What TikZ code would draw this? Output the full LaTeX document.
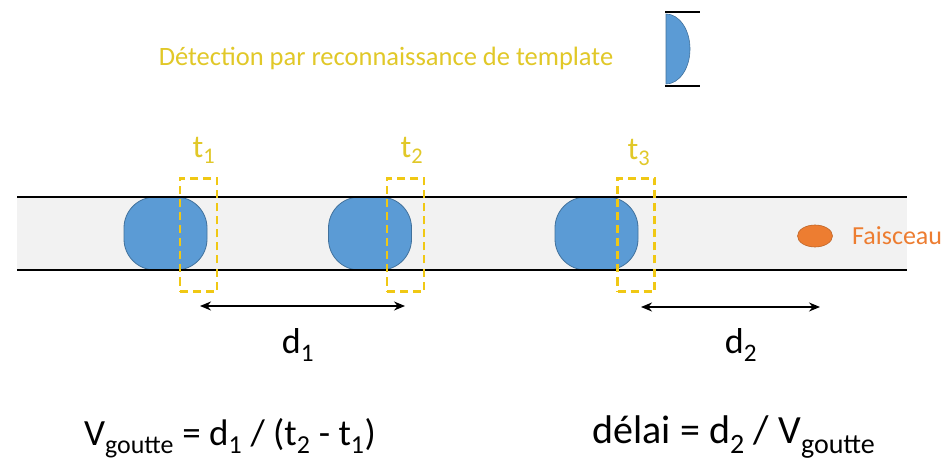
\documentclass[tikz,border=0pt]{standalone}
\usepackage{fontspec}
\setmainfont{Carlito}
\usetikzlibrary{arrows.meta,shapes.geometric}
\definecolor{dropblue}{RGB}{91,155,213}
\definecolor{dropedge}{RGB}{65,113,156}
\definecolor{goldy}{RGB}{240,200,20}
\definecolor{goldtext}{RGB}{225,200,40}
\definecolor{orangeb}{RGB}{237,125,49}
\definecolor{chan}{RGB}{242,242,242}
\tikzset{
  dropbox/.style={rectangle, rounded corners=31pt, fill=dropblue, draw=dropedge, line width=0.8pt, minimum width=83pt, minimum height=73pt, inner sep=0pt},
  winbox/.style={rectangle, draw=goldy, dashed, dash pattern=on 8pt off 5pt, line width=2.2pt, minimum width=37pt, minimum height=113pt, inner sep=0pt},
  tlabel/.style={text=goldtext, font=\fontsize{32}{36}\selectfont, inner sep=0pt},
  dlabel/.style={text=black, font=\fontsize{36}{40}\selectfont, inner sep=0pt},
  formula/.style={text=black, inner sep=0pt},
  dimarrow/.style={{Stealth[length=11pt,width=9pt]}-{Stealth[length=11pt,width=9pt]}, line width=1.6pt},
}
\begin{document}
\begin{tikzpicture}[x=1pt,y=-1pt]
\useasboundingbox (0,0) rectangle (947,462);
\fill[white] (0,0) rectangle (947,462);
% channel
\fill[chan] (17,197) rectangle (907,270);
\coordinate (cl1) at (17,197); \coordinate (cr1) at (907,197);
\coordinate (cl2) at (17,270); \coordinate (cr2) at (907,270);
% drops
\node[dropbox] (g1) at (165.5,233.5) {};
\node[dropbox] (g2) at (370,233.5) {};
\node[dropbox] (g3) at (596.5,233.5) {};
\draw[line width=1.5pt] (cl1) -- (cr1);
\draw[line width=1.5pt] (cl2) -- (cr2);
% detection windows
\node[winbox] (w1) at (198.5,235) {};
\node[winbox] (w2) at (405.5,235) {};
\node[winbox] (w3) at (636,235) {};
\node[tlabel] (t1) at (204,150) {t\textsubscript{1}};
\node[tlabel] (t2) at (412,150) {t\textsubscript{2}};
\node[tlabel] (t3) at (639,152) {t\textsubscript{3}};
% beam
\node[ellipse, fill=orangeb, draw=orangeb!80!black, line width=0.6pt, minimum width=35pt, minimum height=22pt, inner sep=0pt] (fb) at (815,236) {};
\node[anchor=west, text=orangeb, font=\fontsize{26}{30}\selectfont, inner sep=0pt] (fl) at (852,236) {Faisceau};
% dimension arrows
\coordinate (a1) at (200,306); \coordinate (b1) at (405,306);
\draw[dimarrow] (a1) -- (b1);
\node[dlabel] (d1) at (298,345) {d\textsubscript{1}};
\coordinate (a2) at (641,307); \coordinate (b2) at (820,307);
\draw[dimarrow] (a2) -- (b2);
\node[dlabel] (d2) at (741,345) {d\textsubscript{2}};
% title and template icon
\node[text=goldtext, font=\fontsize{26.5}{30}\selectfont, inner sep=0pt] (title) at (386,58) {Détection par reconnaissance de template};
\coordinate (it) at (666,14); \coordinate (ib) at (666,84);
\fill[dropblue, draw=dropedge, line width=0.6pt] (it) arc[start angle=90, end angle=-90, x radius=24pt, y radius=35pt] -- cycle;
\coordinate (itl) at (665,12); \coordinate (itr) at (700,12);
\coordinate (ibl) at (665,86); \coordinate (ibr) at (700,86);
\draw[line width=1.5pt] (itl) -- (itr);
\draw[line width=1.5pt] (ibl) -- (ibr);
% formulas
\node[formula, font=\fontsize{37}{42}\selectfont] (f1) at (230,438) {V\textsubscript{goutte} = d\textsubscript{1} / (t\textsubscript{2} - t\textsubscript{1})};
\node[formula, font=\fontsize{40}{45}\selectfont] (f2) at (734,437) {délai = d\textsubscript{2} / V\textsubscript{goutte}};
\end{tikzpicture}
\end{document}
